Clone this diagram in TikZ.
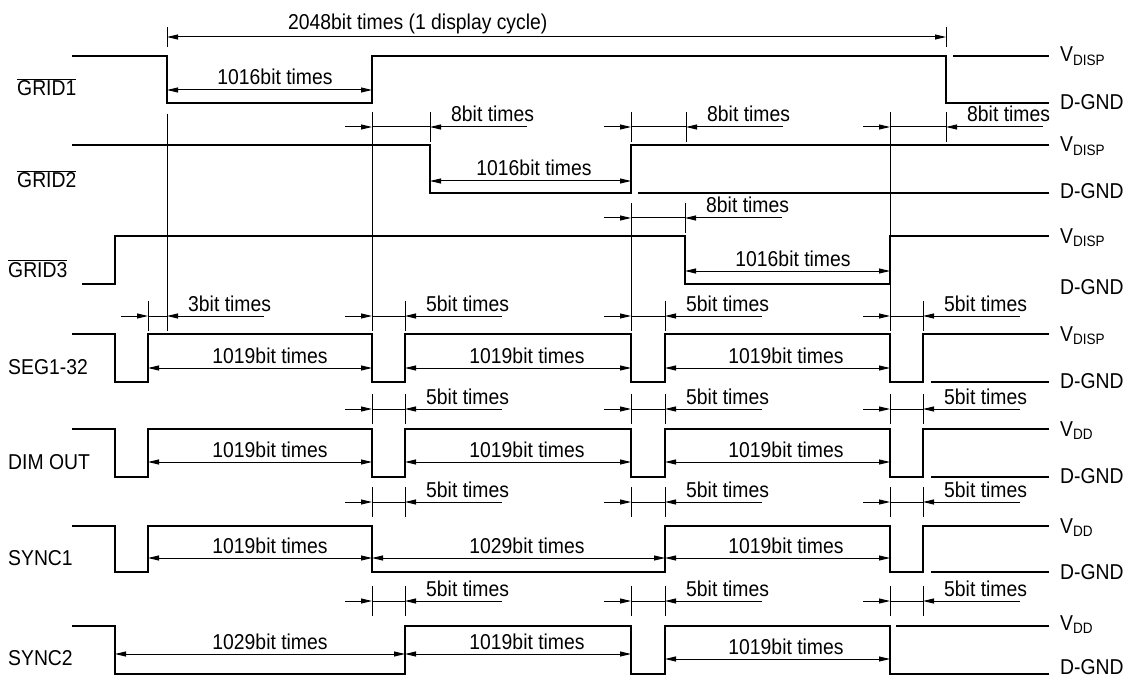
\documentclass[tikz,border=0pt]{standalone}
\usepackage{fontspec}
\newfontfamily\tdfont{Liberation Sans}[FakeStretch=0.9]
\usetikzlibrary{arrows.meta}

\begin{document}
\begin{tikzpicture}[x=1pt,y=-1pt]
        \tikzstyle{every node}=[font=\tdfont\fontsize{21.5}{24}\selectfont, inner sep=0pt]
        \tikzstyle{wave}=[line width=1.3pt, line join=miter]
        \tikzstyle{guide}=[line width=1pt]
        \tikzstyle{tip}=[line width=1pt, -{Triangle[length=11pt,width=5pt]}]
        \tikzstyle{span}=[line width=1pt, {Triangle[length=11pt,width=5pt]}-{Triangle[length=11pt,width=5pt]}]
        \tikzstyle{dimtext}=[anchor=base]
        \tikzstyle{note}=[anchor=base west]
        \useasboundingbox (0,0) rectangle (1132,679);
        % waveforms
        \draw[wave] (72,56) -- (167,56) -- (167,103) -- (372,103) -- (372,56) -- (946,56) -- (946,103) -- (1049,103) (953,56) -- (1049,56);
        \draw[wave] (72,145) -- (430,145) -- (430,193) -- (631,193) -- (631,145) -- (1049,145) (638,193) -- (1049,193);
        \draw[wave] (82,284) -- (115,284) -- (115,236) -- (685,236) -- (685,284) -- (890,284) -- (890,236) -- (1049,236);
        \foreach \h/\l in {334/382, 429/477} {
            \draw[wave] (72,\h) -- (115,\h) -- (115,\l) -- (148,\l) -- (148,\h) -- (372,\h) -- (372,\l) -- (405,\l) -- (405,\h) -- (631,\h) -- (631,\l) -- (665,\l) -- (665,\h) -- (890,\h) -- (890,\l) -- (923,\l) -- (923,\h) -- (1049,\h) (931,\l) -- (1049,\l);
        }
        \draw[wave] (72,526) -- (115,526) -- (115,572) -- (148,572) -- (148,526) -- (372,526) -- (372,572) -- (665,572) -- (665,526) -- (890,526) -- (890,572) -- (923,572) -- (923,526) -- (1049,526) (931,572) -- (1049,572);
        \draw[wave] (72,626) -- (115,626) -- (115,674) -- (405,674) -- (405,626) -- (631,626) -- (631,674) -- (665,674) -- (665,626) -- (890,626) -- (890,674) -- (1049,674) (896,626) -- (1049,626);
        % long guide lines
        \draw[guide] (167,27) -- (167,47) (946,27) -- (946,47);
        \draw[guide] (167,114) -- (167,330) (372,114) -- (372,330) (631,205) -- (631,330) (890,112) -- (890,330);
        % short gaps
        \foreach \a/\b/\y/\n [count=\i] in {372/430/127/8, 631/686/127/8, 890/946/127/8, 631/685/218/8,
                148/167/316/3, 372/405/316/5, 631/665/316/5, 890/923/316/5,
                372/405/409/5, 631/665/409/5, 890/923/409/5,
                372/405/502/5, 631/665/502/5, 890/923/502/5,
                372/405/601/5, 631/665/601/5, 890/923/601/5} {
            \draw[guide] (\a,\y-15) -- (\a,\y+15) (\b,\y-15) -- (\b,\y+15) (\a,\y) -- (\b,\y);
            \draw[tip] (\a-27,\y) -- (\a,\y);
            \draw[tip] (\b+97,\y) -- (\b,\y);
            \node[note] (gap\i) at (\b+21,\y-5) {\n bit times};
        }
        % long spans
        \draw[span] (167,37) -- (946,37);
        \node[note] (cycle) at (288,30) {2048bit times (1 display cycle)};
        \foreach \a/\b/\y/\c/\n [count=\i] in {167/372/90/275/1016, 430/631/181/534/1016, 685/890/271/793/1016,
                148/372/368/270/1019, 405/631/368/527/1019, 665/890/368/786/1019,
                148/372/462/270/1019, 405/631/462/527/1019, 665/890/462/786/1019,
                148/372/558/270/1019, 372/665/558/527/1029, 665/890/558/786/1019,
                115/405/654/270/1029, 405/631/654/527/1019, 665/890/659/786/1019} {
            \draw[span] (\a,\y) -- (\b,\y);
            \node[dimtext] (span\i) at (\c,\y-5) {\n bit times};
        }
        % signal names
        \node[note] (grid1) at (17,96) {$\overline{\mbox{GRID1}}$};
        \node[note] (grid2) at (17,188) {$\overline{\mbox{GRID2}}$};
        \node[note] (grid3) at (8,277) {$\overline{\mbox{GRID3}}$};
        \node[note] (seg) at (8,374) {SEG1-32};
        \node[note] (dim) at (8,469) {DIM OUT};
        \node[note] (sync1) at (8,565) {SYNC1};
        \node[note] (sync2) at (8,665) {SYNC2};
        % levels
        \foreach \y/\t [count=\i] in {62/V\textsubscript{DISP}, 110/D-GND, 152/V\textsubscript{DISP}, 199/D-GND,
                243/V\textsubscript{DISP}, 294/D-GND, 341/V\textsubscript{DISP}, 388/D-GND,
                436/V\textsubscript{DD}, 483/D-GND, 533/V\textsubscript{DD}, 579/D-GND,
                630/V\textsubscript{DD}, 674/D-GND} {
            \node[note] (level\i) at (1060,\y) {\t};
        }
\end{tikzpicture}
\end{document}
